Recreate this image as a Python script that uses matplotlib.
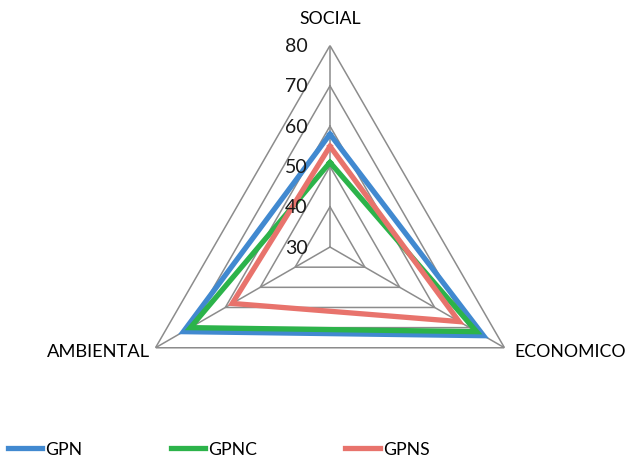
import numpy as np
import matplotlib
matplotlib.use('Agg')
import matplotlib.pyplot as plt

plt.rcParams['font.family'] = ['Lato', 'DejaVu Sans']

categories = ['SOCIAL', 'ECONOMICO', 'AMBIENTAL']
gpn = [58, 74, 72]
gpnc = [51, 72, 70]
gpns = [55, 67, 58]
series_names = ['GPN', 'GPNC', 'GPNS']
colors = ['#4189d0', '#2cb34a', '#e8736c']
r_ticks = [30, 40, 50, 60, 70, 80]

fig = plt.figure(figsize=(6.28, 4.60), dpi=100)
ax = fig.add_axes([0.2046, 0.0228, 0.6417, 0.876], projection='polar')
ax.set_theta_offset(np.pi / 2)
ax.set_theta_direction(-1)
ax.set_ylim(30, 80)
ax.grid(False)
ax.spines['polar'].set_visible(False)
ax.set_xticks([])
ax.set_yticks([])
ax.patch.set_visible(False)

theta = np.linspace(0, 2 * np.pi, len(categories), endpoint=False)
theta_closed = np.append(theta, theta[0])

# triangle grid + spokes
grid_col = '#8c8c8c'
for r in r_ticks[1:]:
    ax.plot(theta_closed, [r] * len(theta_closed), color=grid_col, lw=1.1, zorder=1)
for t in theta:
    ax.plot([t, t], [30, 80], color=grid_col, lw=1.1, zorder=1)

for r in r_ticks:
    ax.annotate(str(r), xy=(0, r), xytext=(-16, 0), textcoords='offset points',
                ha='right', va='center', fontsize=14, color='#1a1a1a', zorder=5)

for vals, name, c in zip([gpn, gpnc, gpns], series_names, colors):
    ax.plot(theta_closed, vals + vals[:1], color=c, lw=3.8, label=name,
            solid_joinstyle='miter', zorder=3)

# category labels
ax.annotate(categories[0], xy=(theta[0], 80), xytext=(0, 19.5), textcoords='offset points',
            ha='center', va='center', fontsize=12.7)
ax.annotate(categories[1], xy=(theta[1], 80), xytext=(7, -2.5), textcoords='offset points',
            ha='left', va='center', fontsize=12.7)
ax.annotate(categories[2], xy=(theta[2], 80), xytext=(-4, -2.5), textcoords='offset points',
            ha='right', va='center', fontsize=13.2)

fig.legend(loc='center left', bbox_to_anchor=(0.0127, 0.022), ncol=3, frameon=False,
           fontsize=12.7, handlelength=1.95, handletextpad=0.17, columnspacing=5.0,
           borderpad=0, borderaxespad=0)

fig.savefig('out.png', dpi=100)
